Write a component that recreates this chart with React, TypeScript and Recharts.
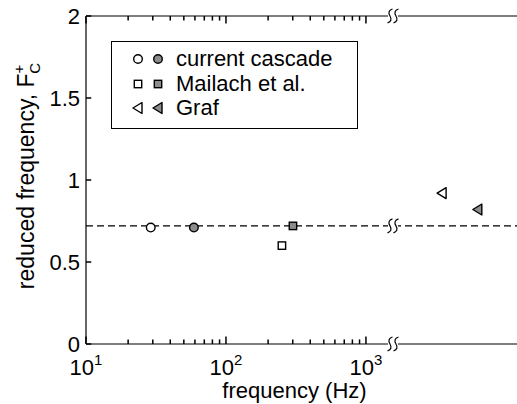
import React from "react";
import { ScatterChart, Scatter, XAxis, YAxis, ReferenceLine, ReferenceDot } from "recharts";

// reduced frequency vs. forcing frequency, three data sources (open / filled pairs)
const cascadeFreq = [29, 59];
const cascadeFc = [0.71, 0.71];
const mailachFreq = [251, 301];
const mailachFc = [0.6, 0.72];
const grafFreq = [3500, 6300];
const grafFc = [0.92, 0.82];
const pointFilled = [false, true];

const seriesNames = ["current cascade", "Mailach et al.", "Graf"];
const yTicks = [0, 0.5, 1, 1.5, 2];
const xMajorTicks = [10, 100, 1000];
const xMinorTicks = [20, 30, 40, 50, 60, 70, 80, 90, 200, 300, 400, 500, 600, 700, 800, 900];
const dashedLevel = 0.72;
const breakFreq = 1560;
const xDomain = [10, 12000];
const yDomain = [0, 2];

const FONT = "'Liberation Sans', Arial, Helvetica, sans-serif";
const FS = 22;
const GREY = "#8c8c8c";
const TICK_OFF = 4; // tickSize + tickMargin given to the axes

// inward tick lengths, in axis units
const MAJOR_TICK_Y = 0.045;
const MINOR_TICK_Y = 0.028;
const LEFT_TICK_FACTOR = 1.09;

const toPoints = (freq: number[], fc: number[]) =>
  freq.map((f, i) => ({ freq: f, fc: fc[i], filled: pointFilled[i] }));

const cascadeData = toPoints(cascadeFreq, cascadeFc);
const mailachData = toPoints(mailachFreq, mailachFc);
const grafData = toPoints(grafFreq, grafFc);

const CircleMark = ({ cx, cy, filled }: any) => (
  <circle cx={cx} cy={cy} r={4.3} fill={filled ? GREY : "#fff"} stroke="#000" strokeWidth={1.4} />
);
const SquareMark = ({ cx, cy, filled }: any) => (
  <rect x={cx - 3.7} y={cy - 3.7} width={7.4} height={7.4} fill={filled ? GREY : "#fff"} stroke="#000" strokeWidth={1.4} />
);
const TriangleMark = ({ cx, cy, filled }: any) => (
  <polygon
    points={`${cx - 5},${cy} ${cx + 4},${cy - 5.5} ${cx + 4},${cy + 5.5}`}
    fill={filled ? GREY : "#fff"}
    stroke="#000"
    strokeWidth={1.4}
    strokeLinejoin="round"
  />
);

const markers = [CircleMark, SquareMark, TriangleMark];

const shapeFor = (Mark: any) => (props: any) =>
  <Mark cx={props.cx} cy={props.cy} filled={props.payload?.filled} />;

// labels only; the inward tick marks are ReferenceLine segments below
const BottomTick = (props: any) => {
  const { x, payload } = props;
  const y = props.y - TICK_OFF;
  if (!xMajorTicks.includes(payload.value)) return <g />;
  const exp = Math.round(Math.log10(payload.value));
  return (
    <text x={x} y={y + 31} textAnchor="middle" fontFamily={FONT} fontSize={FS} fill="#000">
      10
      <tspan dy={-10} fontSize={15}>
        {exp}
      </tspan>
    </text>
  );
};

const LeftTick = (props: any) => {
  const { y, payload } = props;
  const x = props.x + TICK_OFF;
  return (
    <text x={x - 6} y={y + 8} textAnchor="end" fontFamily={FONT} fontSize={FS} fill="#000">
      {payload.value}
    </text>
  );
};

const XLabel = (props: any) => {
  const { viewBox } = props;
  return (
    <text x={viewBox.x + viewBox.width / 2 - 7} y={viewBox.y + 54} textAnchor="middle" fontFamily={FONT} fontSize={FS} fill="#000">
      frequency (Hz)
    </text>
  );
};

const YLabel = () => {
  const cx = 34;
  const cy = 176;
  return (
    <text
      x={cx}
      y={cy}
      transform={`rotate(-90, ${cx}, ${cy})`}
      textAnchor="middle"
      fontFamily={FONT}
      fontSize={23}
      fill="#000"
    >
      reduced frequency, F
      <tspan dy={-10} fontSize={15}>+</tspan>
      <tspan dx={-9} dy={16} fontSize={15}>C</tspan>
    </text>
  );
};

// axis-break squiggle
const BreakMark = (props: any) => {
  const { cx, cy } = props;
  if (cx == null || cy == null) return null;
  const s = (sx: number) =>
    `M ${sx + 2.5} ${cy - 7} Q ${sx - 3} ${cy - 5} ${sx} ${cy} Q ${sx + 3} ${cy + 5} ${sx - 2.5} ${cy + 7}`;
  return (
    <g>
      <rect x={cx - 5} y={cy - 2} width={10} height={4} fill="#fff" />
      <path d={s(cx - 3)} fill="none" stroke="#000" strokeWidth={1.2} />
      <path d={s(cx + 3)} fill="none" stroke="#000" strokeWidth={1.2} />
    </g>
  );
};

const LegendMark = ({ Mark, filled }: any) => (
  <svg width={14} height={14} style={{ display: "block" }}>
    <Mark cx={7} cy={7} filled={filled} />
  </svg>
);

const App = () => {
  const datasets = [cascadeData, mailachData, grafData];
  const allTicks = [...xMajorTicks, ...xMinorTicks];
  const tickLen = (t: number) => (xMajorTicks.includes(t) ? MAJOR_TICK_Y : MINOR_TICK_Y);
  return (
    <div style={{ position: "absolute", left: 0, top: 0, width: 517, height: 404, background: "#fff" }}>
      <ScatterChart width={517} height={404} margin={{ top: 16, right: 0, bottom: 0, left: 0 }}>
        <XAxis
          dataKey="freq"
          type="number"
          scale="log"
          domain={xDomain}
          allowDataOverflow
          ticks={allTicks}
          interval={0}
          tick={<BottomTick />}
          tickLine={false}
          tickSize={2}
          tickMargin={2}
          height={60}
          axisLine={false}
          label={<XLabel />}
        />
        <YAxis
          dataKey="fc"
          type="number"
          domain={yDomain}
          ticks={yTicks}
          interval={0}
          tick={<LeftTick />}
          tickLine={false}
          tickSize={2}
          tickMargin={2}
          width={86}
          axisLine={false}
          label={<YLabel />}
        />
        {/* frame */}
        <ReferenceLine y={yDomain[0]} stroke="#000" strokeWidth={1.2} />
        <ReferenceLine y={yDomain[1]} stroke="#000" strokeWidth={1.2} />
        <ReferenceLine x={xDomain[0]} stroke="#000" strokeWidth={1.2} />
        {/* inward tick marks: bottom, top, left */}
        {allTicks.map((t) => (
          <ReferenceLine
            key={`b${t}`}
            ifOverflow="visible"
            segment={[
              { x: t, y: yDomain[0] },
              { x: t, y: yDomain[0] + tickLen(t) },
            ]}
            stroke="#000"
            strokeWidth={1.5}
          />
        ))}
        {allTicks.map((t) => (
          <ReferenceLine
            key={`t${t}`}
            ifOverflow="visible"
            segment={[
              { x: t, y: yDomain[1] },
              { x: t, y: yDomain[1] - tickLen(t) },
            ]}
            stroke="#000"
            strokeWidth={1.5}
          />
        ))}
        {yTicks.map((t) => (
          <ReferenceLine
            key={`l${t}`}
            ifOverflow="visible"
            segment={[
              { x: xDomain[0], y: t },
              { x: xDomain[0] * LEFT_TICK_FACTOR, y: t },
            ]}
            stroke="#000"
            strokeWidth={1.5}
          />
        ))}
        <ReferenceLine y={dashedLevel} stroke="#000" strokeDasharray="7 4" strokeWidth={1.2} />
        {datasets.map((d, i) => (
          <Scatter
            key={seriesNames[i]}
            name={seriesNames[i]}
            data={d}
            shape={shapeFor(markers[i])}
            isAnimationActive={false}
          />
        ))}
        {[yDomain[0], dashedLevel, yDomain[1]].map((lvl) => (
          <ReferenceDot key={lvl} x={breakFreq} y={lvl} ifOverflow="visible" shape={<BreakMark />} />
        ))}
      </ScatterChart>
      <div
        style={{
          position: "absolute",
          left: 111,
          top: 41,
          width: 247,
          height: 88,
          border: "1px solid #000",
          background: "#fff",
          fontFamily: FONT,
          fontSize: FS,
          boxSizing: "border-box",
          paddingTop: 5,
        }}
      >
        {seriesNames.map((name, i) => (
          <div key={name} style={{ display: "flex", alignItems: "center", height: 24.5, paddingLeft: 19 }}>
            <LegendMark Mark={markers[i]} filled={false} />
            <div style={{ width: 6 }} />
            <LegendMark Mark={markers[i]} filled={true} />
            <span style={{ marginLeft: 11, lineHeight: "22px" }}>{name}</span>
          </div>
        ))}
      </div>
    </div>
  );
};

export default App;
